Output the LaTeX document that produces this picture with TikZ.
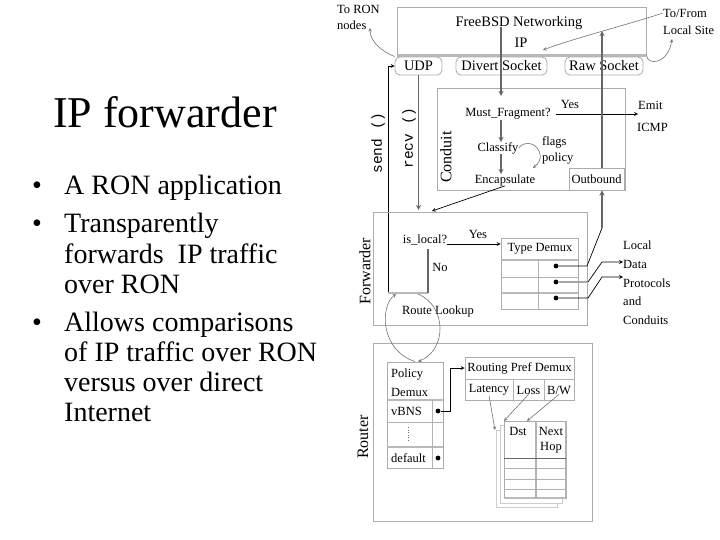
\documentclass[tikz,border=0pt]{standalone}
\usepackage{fontspec}
\setmainfont{Liberation Serif}
\setmonofont{Liberation Mono}
\begin{document}
\begin{tikzpicture}[x=1pt,y=-1pt,>=stealth]
\tikzstyle{lbl}=[font=\fontsize{12.5}{14}\selectfont,inner sep=0pt]
\tikzstyle{big}=[font=\fontsize{14.5}{17}\selectfont,inner sep=0pt]
\tikzstyle{side}=[font=\fontsize{16}{18}\selectfont,inner sep=0pt,rotate=90]
\tikzstyle{call}=[font=\ttfamily\fontsize{14.5}{16}\selectfont,inner sep=0pt,rotate=90]
\tikzstyle{itemline}=[font=\rmfamily\fontsize{28}{30}\selectfont,inner sep=0pt,anchor=base west]
\tikzstyle{box}=[draw=gray!65,line width=0.9pt,inner sep=0pt]
\tikzstyle{sock}=[draw=gray!60,line width=0.9pt,rounded corners=5pt,minimum height=18pt,inner sep=0pt,font=\fontsize{14.5}{17}\selectfont]
\tikzstyle{bar}=[draw=gray!55,line width=2.6pt]
\tikzstyle{flow}=[draw=black!60,line width=1.3pt]
\tikzstyle{thin}=[draw=black,line width=0.7pt]
\tikzstyle{pale}=[draw=black!55,line width=0.6pt]
\tikzstyle{dot}=[circle,fill,inner sep=1.7pt]
\path[fill=white] (0,0) rectangle (720,540);
\useasboundingbox (0,0) rectangle (720,540);

% slide text
\node[font=\rmfamily\fontsize{44}{48}\selectfont,anchor=base,inner sep=0pt] (title) at (165,128) {IP forwarder};
\foreach \y in {195,233,331}
  \node[itemline,anchor=base] (b\y) at (37,\y) {\textbullet};
\node[itemline] (l1) at (64,195) {A RON application};
\node[itemline] (l2) at (64,233) {Transparently};
\node[itemline] (l3) at (64,263) {forwards \ IP traffic};
\node[itemline] (l4) at (64,293) {over RON};
\node[itemline] (l5) at (64,331) {Allows comparisons};
\node[itemline] (l6) at (64,361) {of IP traffic over RON};
\node[itemline] (l7) at (64,391) {versus over direct};
\node[itemline] (l8) at (64,421) {Internet};

% FreeBSD networking
\node[box,minimum width=249,minimum height=48] (bsd) at (521.5,31) {};
\node[big] (bsdname) at (519,23) {FreeBSD Networking};
\node[big] (ip) at (521,43) {IP};
\draw[bar] (bsd.south west) -- (bsd.south east);
\node[sock,minimum width=47] (udp) at (418.5,66) {UDP};
\node[sock,minimum width=91] (divert) at (501.5,66) {Divert Socket};
\node[sock,minimum width=78] (raw) at (604,66) {Raw Socket};
\node[lbl,anchor=west] (toron) at (337,9) {To RON};
\node[lbl,anchor=west] (nodes) at (337,25) {nodes};
\node[lbl,anchor=west] (tofrom) at (663,13) {To/From};
\node[lbl,anchor=west] (localsite) at (663,30) {Local Site};
\coordinate (ronpt) at (370,28);
\coordinate (ipin) at (543,50);
\coordinate (sitept) at (672,39);
\draw[pale,->] (udp.north west) .. controls (383,52) and (370,42) .. (ronpt);
\draw[pale,->] (tofrom.west) .. controls (630,24) and (575,38) .. (ipin);
\draw[pale,->] (bsd.south east) .. controls (648,66) and (668,64) .. (sitept);

% Conduit
\node[box,minimum width=188,minimum height=102] (conduit) at (531,139) {};
\node[side] (conduitlbl) at (446,157) {Conduit};
\node[lbl] (must) at (508,114) {Must\_Fragment?};
\node[lbl] (classify) at (498,148) {Classify};
\node[lbl] (encap) at (505,180) {Encapsulate};
\node[lbl] (yes1) at (570,104) {Yes};
\node[lbl,anchor=west] (emit) at (638,105) {Emit};
\node[lbl,anchor=west] (icmp) at (637,127) {ICMP};
\node[lbl,anchor=west] (flags) at (542,142) {flags};
\node[lbl,anchor=west] (policy) at (542,159) {policy};
\node[box,lbl,minimum width=55,minimum height=22] (outbound) at (596.5,179) {Outbound};
\coordinate (divtop) at (501,27);
\coordinate (mustin) at (501,96);
\coordinate (rawtop) at (602,31);
\coordinate (polin) at (533,168);
\draw[flow,->] (divtop) -- (mustin);
\draw[flow,->] (must.south -| divtop) -- (classify.north -| divtop);
\draw[flow,->] (classify.south -| divtop) -- (encap.north -| divtop);
\draw[thin,->,shorten <=5pt] (must.east) -- (emit.west |- must.east);
\draw[pale,->] (classify.east) .. controls (530,134) and (550,154) .. (polin);
\draw[flow,->] (outbound.north -| rawtop) -- (rawtop);

% send / recv
\node[call] (sendlbl) at (378,143) {send ()};
\node[call] (recvlbl) at (409,138) {recv ()};
\coordinate (rl1) at (388,293);
\coordinate (rl2) at (428,293);
\coordinate (lk1) at (396,294);
\coordinate (lk2) at (418,294);
\coordinate (fwdin) at (432,211);
\draw[thin,->] (rl1) -- (rl1 |- udp.west) -- (udp.west);
\draw[flow,->] (udp.south) -- (udp.south |- 0,210);
\draw[thin,->] (encap.south) -- (fwdin);

% Forwarder
\node[box,minimum width=214,minimum height=113] (fwd) at (480,268.5) {};
\node[side] (fwdlbl) at (365,271) {Forwarder};
\node[lbl] (islocal) at (425,240) {is\_local?};
\node[lbl] (yes2) at (478,234) {Yes};
\node[lbl] (no) at (440,267) {No};
\node[lbl] (lookup) at (438,311) {Route Lookup};
\draw[bar] (rl1) -- (rl2);
\draw[flow,shorten <=4pt] (islocal.south -| rl2) -- (rl2);
\node[box,minimum width=77,minimum height=71] (tdemux) at (539.5,273.5) {};
\node[lbl] (tdhead) at (540,249) {Type Demux};
\draw[bar] (501,260) -- (578,260);
\draw[draw=gray!60,line width=0.8pt] (501,277) -- (578,277);
\draw[bar] (501,293) -- (578,293);
\draw[draw=gray!60,line width=0.8pt] (538,260) -- (538,309);
\draw[thin,->] ([yshift=-4]islocal.east) -- (tdemux.west |- 0,244);
\node[dot] (d1) at (556,266) {};
\node[dot] (d2) at (556,282) {};
\node[dot] (d3) at (556,298) {};
\coordinate (k1) at (587,266);
\coordinate (k2) at (602,228);
\coordinate (k3) at (588,282);
\coordinate (k4) at (602,262);
\coordinate (k5) at (588,298);
\coordinate (k6) at (602,277);
\node[lbl,anchor=west] (local) at (623,245) {Local};
\node[lbl,anchor=west] (data) at (623,264) {Data};
\node[lbl,anchor=west] (protocols) at (623,283) {Protocols};
\node[lbl,anchor=west] (and) at (623,301) {and};
\node[lbl,anchor=west] (conduits) at (623,320) {Conduits};
\draw[thin] (d1) -- (k1) -- (k2);
\draw[flow,->] (k2) -- (outbound.south -| k2);
\draw[bar,line width=2pt,draw=gray!70] (d2) -- (k3);
\draw[thin,->] (k3) -- (k4) -- (k4 -| data.west);
\draw[thin,->] (d3) -- (k5) -- (k6) -- (k6 -| data.west);

% Router
\node[box,minimum width=219,minimum height=178] (router) at (482.5,432) {};
\node[side] (routerlbl) at (363,437) {Router};
\node[box,minimum width=56,minimum height=106] (pdemux) at (415,415) {};
\node[lbl,anchor=west] (policy2) at (391,375) {Policy};
\node[lbl,anchor=west] (demux2) at (391,392) {Demux};
\node[lbl,anchor=west] (vbns) at (391,411) {vBNS};
\node[lbl,anchor=west] (default) at (391,458) {default};
\draw[bar] (387,400) -- (443,400);
\draw[draw=gray!60,line width=0.8pt] (387,422) -- (443,422);
\draw[bar] (387,447) -- (443,447);
\draw[draw=gray!60,line width=0.8pt] (432,400) -- (432,468);
\draw[pale,dotted] (408,427) -- (408,442);
\node[dot] (pd1) at (438,411) {};
\node[dot] (pd2) at (438,458) {};
\draw[pale,->] (lk2) .. controls (447,306) and (447,350) .. ([xshift=3]pdemux.north);
\draw[pale,->] (pdemux.north) .. controls (380,350) and (380,306) .. (lk1);

\node[box,minimum width=109,minimum height=43] (rpd) at (519.5,378.5) {};
\node[lbl] (rpdhead) at (519.5,368) {Routing Pref Demux};
\draw[draw=gray!60,line width=0.8pt] (465,379) -- (574,379);
\draw[draw=gray!60,line width=0.8pt] (513,379) -- (513,400);
\draw[draw=gray!60,line width=0.8pt] (544,379) -- (544,400);
\node[lbl] (latency) at (489,390) {Latency};
\node[lbl] (loss) at (528.5,390) {Loss};
\node[lbl] (bw) at (559,390) {B/W};
\draw[thin,->] (pd1) -- ++(12,0) |- (rpdhead -| rpd.west);

% next hop tables
\draw[draw=gray!40,line width=0.8pt,fill=white] (496,430) rectangle (557,507);
\draw[draw=gray!40,line width=0.8pt,fill=white] (500,425) rectangle (562,503);
\node[box,fill=white,minimum width=62,minimum height=77] (hop) at (535,459.5) {};
\draw[bar] (504,498) -- (566,498);
\draw[draw=gray!60,line width=1.4pt] (566,421) -- (566,498);
\draw[draw=gray!60,line width=1.2pt] (536,421) -- (536,498);
\draw[draw=black!60,line width=0.6pt] (504,458) -- (566,458);
\foreach \r in {468,479,489}
  \draw[draw=gray!60,line width=0.6pt] (504,\r) -- (566,\r);
\node[lbl] (dst) at (518,431) {Dst};
\node[lbl] (next) at (551,431) {Next};
\node[lbl] (hopname) at (551,448) {Hop};
\coordinate (hopback) at (495,430);
\coordinate (hopfront) at (504,421);
\coordinate (hoptop) at (527,421);
\draw[pale,->] (latency.south) -- (hopback);
\draw[pale,->] (loss.south) -- (hopfront);
\draw[pale,->] (bw.south) -- (hoptop);
\end{tikzpicture}
\end{document}
